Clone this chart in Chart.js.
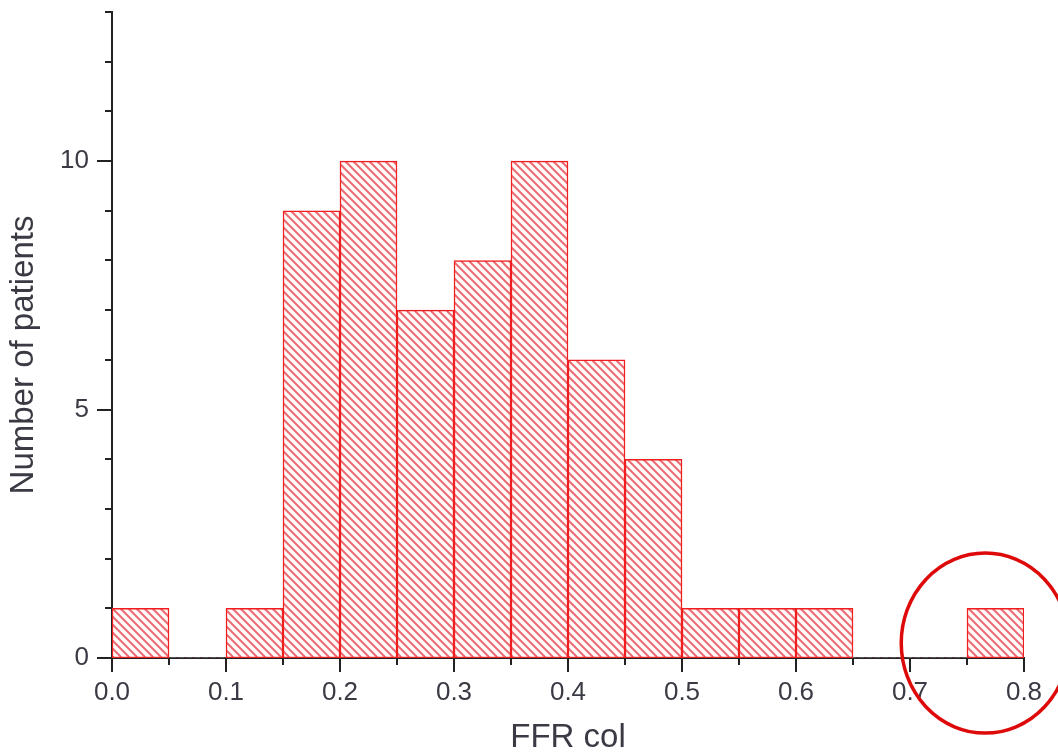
<!DOCTYPE html>
<html><head><meta charset="utf-8">
<script src="https://cdn.jsdelivr.net/npm/chart.js@4/dist/chart.umd.min.js"></script>
<style>html,body{margin:0;padding:0;background:#fff}#wrap{width:1058px;height:754px}</style>
</head><body><div id="wrap"><canvas id="c" width="1058" height="754"></canvas></div>
<script>
// ---- data ----
const binStarts = [0.00,0.05,0.10,0.15,0.20,0.25,0.30,0.35,0.40,0.45,0.50,0.55,0.60,0.65,0.70,0.75];
const binWidth = 0.05;
const counts = [1,0,1,9,10,7,8,10,6,4,1,1,1,0,0,1];
const xTickLabels = ['0.0','0.1','0.2','0.3','0.4','0.5','0.6','0.7','0.8'];
const yTickLabels = ['0','5','10'];
const xTitle = 'FFR col';
const yTitle = 'Number of patients';
const highlightAt = [0.766, 0.3]; // annotation circle centre (data units)

// ---- styles ----
const AXIS = '#222';
const TEXT = '#3a3a44';
const FONT = "'Liberation Sans', Arial, sans-serif";

function makeHatch(){
  const n = 8;
  const p = document.createElement('canvas'); p.width = n; p.height = n;
  const g = p.getContext('2d');
  g.fillStyle = '#fffafa'; g.fillRect(0,0,n,n);
  g.strokeStyle = 'rgba(226,40,50,0.68)'; g.lineWidth = 2;
  g.beginPath();
  g.moveTo(-1,-1); g.lineTo(n+1,n+1);
  g.moveTo(-1,n-1); g.lineTo(1,n+1);
  g.moveTo(n-1,-1); g.lineTo(n+1,1);
  g.stroke();
  return document.createElement('canvas').getContext('2d').createPattern(p,'repeat');
}

const extras = {
  id: 'extras',
  afterDraw(chart){
    const {ctx, scales:{x, y}} = chart;
    ctx.save();
    ctx.strokeStyle = AXIS; ctx.lineWidth = 2;
    for (let v = 0; v <= 13; v++){
      const py = Math.round(y.getPixelForValue(v));
      const len = v % 5 === 0 ? 15 : 7;
      ctx.beginPath(); ctx.moveTo(x.left, py); ctx.lineTo(x.left - len, py); ctx.stroke();
    }
    for (let k = 0; k <= 16; k++){
      const px = Math.round(x.getPixelForValue(k*binWidth));
      const len = k % 2 === 0 ? 14 : 7;
      ctx.beginPath(); ctx.moveTo(px, y.bottom); ctx.lineTo(px, y.bottom + len); ctx.stroke();
    }
    ctx.fillStyle = TEXT;
    ctx.font = "33px " + FONT;
    ctx.textAlign = 'center'; ctx.textBaseline = 'middle';
    ctx.translate(24, 355); ctx.rotate(-Math.PI/2);
    ctx.fillText(yTitle, 0, 0);
    ctx.restore();
    ctx.save();
    ctx.strokeStyle = 'rgb(222,10,10)'; ctx.lineWidth = 3.5;
    ctx.beginPath();
    ctx.ellipse(x.getPixelForValue(highlightAt[0]), y.getPixelForValue(highlightAt[1]), 84, 90, 0, 0, Math.PI*2);
    ctx.stroke();
    ctx.restore();
  }
};

new Chart(document.getElementById('c'), {
  type: 'bar',
  data: {
    datasets: [{
      data: binStarts.map((s,i) => ({x: s + binWidth/2, y: counts[i]})),
      backgroundColor: makeHatch(),
      borderColor: 'rgb(240,30,30)',
      borderWidth: c => (c.raw && c.raw.y > 0) ? 1.5 : 0,
      borderSkipped: false,
      barPercentage: 1,
      categoryPercentage: 1
    }]
  },
  options: {
    responsive: false,
    animation: false,
    devicePixelRatio: 1,
    layout: {padding: {top: 12, right: 34, left: 0, bottom: 0}},
    plugins: {legend: {display: false}, tooltip: {enabled: false}},
    scales: {
      x: {
        type: 'linear', min: 0, max: 0.8, offset: false,
        grid: {display: false, drawTicks: false, offset: false},
        border: {display: true, color: AXIS, width: 2},
        ticks: {
          stepSize: binWidth, autoSkip: false, maxRotation: 0, padding: 19,
          color: TEXT, font: {family: FONT, size: 26},
          callback: v => { const k = Math.round(v*100); return k % 10 === 0 ? xTickLabels[k/10] : ''; }
        },
        title: {display: true, text: xTitle, color: TEXT, font: {family: FONT, size: 33, lineHeight: 1}, padding: 0},
        afterFit: s => { s.height = 96; s.paddingLeft = 0; s.paddingRight = 0; }
      },
      y: {
        min: 0, max: 13,
        grid: {display: false, drawTicks: false},
        border: {display: true, color: AXIS, width: 2},
        ticks: {
          stepSize: 1, autoSkip: false, padding: 23,
          color: TEXT, font: {family: FONT, size: 26},
          callback: v => yTickLabels.includes(String(v)) ? String(v) : ''
        },
        afterFit: s => { s.width = 112; s.paddingTop = 0; s.paddingBottom = 0; }
      }
    }
  },
  plugins: [extras]
});
</script>
</body></html>
